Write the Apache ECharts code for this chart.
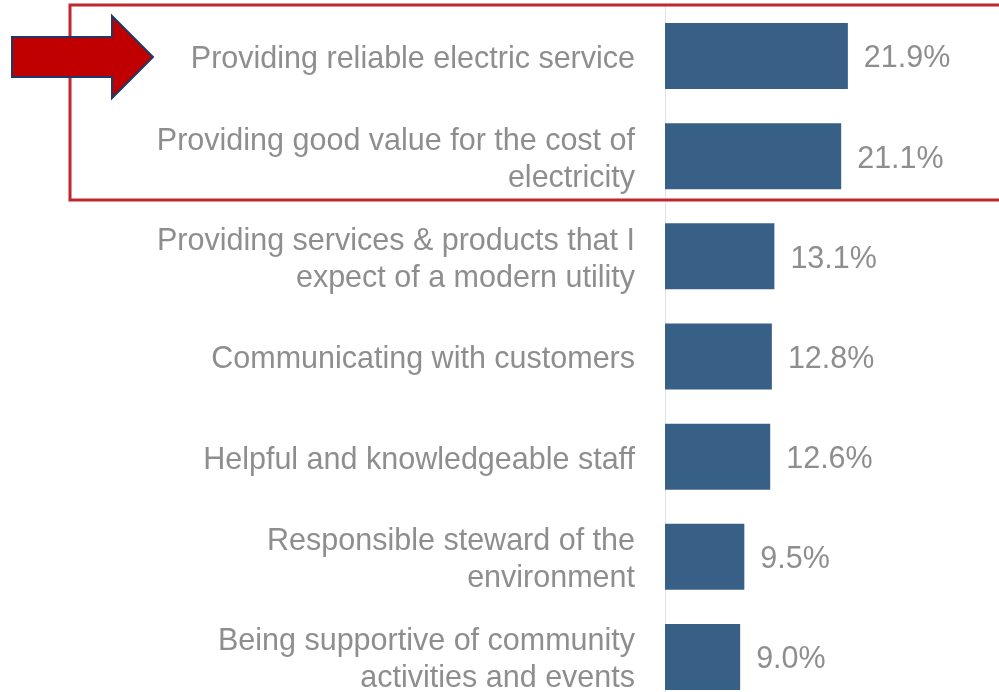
<!DOCTYPE html>
<html>
<head>
<meta charset="utf-8">
<script src="https://cdn.jsdelivr.net/npm/echarts@6/dist/echarts.min.js"></script>
<style>
  html, body { margin: 0; padding: 0; background: #ffffff; overflow: hidden; }
  #chart { width: 999px; height: 712px; }
</style>
</head>
<body>
<div id="chart"></div>
<script>
// Attributes customers rated as most important in their electric utility
const categories = [
  'Providing reliable electric service',
  'Providing good value for the cost of\nelectricity',
  'Providing services & products that I\nexpect of a modern utility',
  'Communicating with customers',
  'Helpful and knowledgeable staff',
  'Responsible steward of the\nenvironment',
  'Being supportive of community\nactivities and events'
];
const shares = [21.9, 21.1, 13.1, 12.8, 12.6, 9.5, 9.0];

const textGray = '#8e8e8e';
const fontFamily = '"Liberation Sans", Arial, sans-serif';

const chart = echarts.init(document.getElementById('chart'), null, { renderer: 'canvas' });

chart.setOption({
  backgroundColor: '#ffffff',
  animation: false,
  grid: { left: 665, top: 6, width: 334, height: 701, containLabel: false },
  xAxis: {
    type: 'value',
    min: 0,
    max: 40,
    show: false,
    splitLine: { show: false }
  },
  yAxis: {
    type: 'category',
    data: categories,
    inverse: true,
    axisTick: { show: false },
    axisLine: { show: true, lineStyle: { color: '#dde3ea', width: 1 } },
    axisLabel: {
      margin: 30,
      align: 'right',
      // the text block is nudged a little low so the caps sit on the bar's centre
      formatter: v => v.split('\n').map(line => '{t|' + line + '}').join('\n'),
      rich: {
        t: {
          fontSize: 30.5,
          lineHeight: 37,
          padding: [7, 0, 0, 0],
          color: textGray,
          fontFamily: fontFamily
        }
      }
    }
  },
  series: [{
    type: 'bar',
    data: shares,
    barWidth: 66,
    itemStyle: { color: '#386087' },
    label: {
      show: true,
      position: 'right',
      distance: 16,
      offset: [0, 3],
      fontSize: 30.5,
      color: textGray,
      fontFamily: fontFamily,
      formatter: p => p.value.toFixed(1) + '%'
    }
  }],
  graphic: [
    {
      type: 'rect',
      z: 10,
      shape: { x: 70, y: 5, width: 940, height: 195 },
      style: { fill: 'none', stroke: '#c0272d', lineWidth: 3 }
    },
    {
      type: 'polygon',
      z: 20,
      shape: {
        points: [[12, 37], [112, 37], [112, 16], [153, 57], [112, 98], [112, 77], [12, 77]]
      },
      style: { fill: '#c00000', stroke: '#1f3864', lineWidth: 2, lineJoin: 'miter' }
    }
  ]
});
</script>
</body>
</html>
